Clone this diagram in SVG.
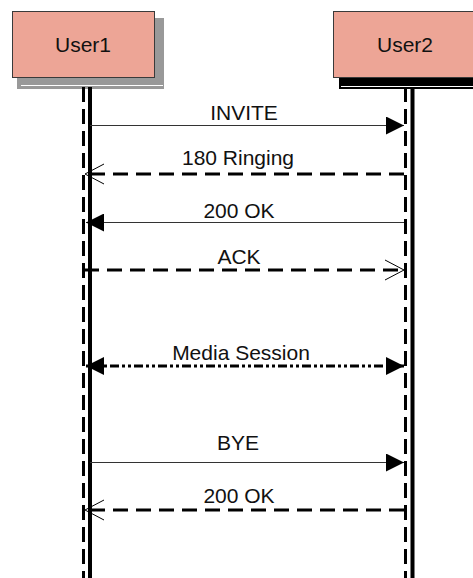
<svg xmlns="http://www.w3.org/2000/svg" width="473" height="578" viewBox="0 0 473 578">
<defs>
<style>
.lbl{font-family:"Liberation Sans",Arial,sans-serif;font-size:21px;fill:#111;text-anchor:middle}
.box{fill:#EDA596;stroke:#3a3a3a;stroke-width:1}
.life-d{stroke:#000;stroke-width:3;stroke-dasharray:15 7;fill:none}
.life-s{stroke:#000;stroke-width:4;fill:none}
.msg{stroke:#333;stroke-width:1.2;fill:none}
.msg-d{stroke:#000;stroke-width:3;stroke-dasharray:15 8;fill:none}
.msg-dd{stroke:#000;stroke-width:3;stroke-dasharray:9 3 3 3 3 3;fill:none}
.open{stroke:#000;stroke-width:1;fill:none}
</style>
<marker id="fillEnd" viewBox="0 0 18 18" refX="18" refY="9" markerWidth="18" markerHeight="18" markerUnits="userSpaceOnUse" orient="auto">
<path d="M0,0 L18,9 L0,18 Z" fill="#000"/>
</marker>
<marker id="fillStart" viewBox="0 0 18 18" refX="0" refY="9" markerWidth="18" markerHeight="18" markerUnits="userSpaceOnUse" orient="auto">
<path d="M18,0 L0,9 L18,18 Z" fill="#000"/>
</marker>
</defs>
<rect width="473" height="578" fill="#fff"/>
<g id="User1">
<rect x="17" y="18" width="147" height="71" fill="#999"/>
<line x1="21" y1="85.5" x2="163" y2="85.5" stroke="#fff" stroke-width="1"/>
<rect class="box" x="12.5" y="11.5" width="142" height="66"/>
<text class="lbl" x="83" y="52">User1</text>
</g>
<g id="User2">
<rect x="339" y="18" width="140" height="71" fill="#000"/>
<line x1="341" y1="86.5" x2="473" y2="86.5" stroke="#fff" stroke-width="1"/>
<rect class="box" x="333.5" y="11.5" width="143" height="66"/>
<text class="lbl" x="405" y="52">User2</text>
</g>
<g id="lifelines">
<line class="life-d" x1="83.5" y1="87" x2="83.5" y2="578"/>
<line class="life-s" x1="90" y1="87" x2="90" y2="578"/>
<line class="life-d" x1="405.5" y1="87" x2="405.5" y2="578"/>
<line class="life-s" x1="412.5" y1="87" x2="412.5" y2="578"/>
</g>
<g id="connectors">
<line class="msg" x1="90" y1="125.5" x2="404" y2="125.5" marker-end="url(#fillEnd)"/>
<text class="lbl" x="244" y="120">INVITE</text>
<line class="msg-d" x1="404" y1="174" x2="86" y2="174"/>
<path class="open" d="M104,164 L85,174 L104,184"/>
<text class="lbl" x="238" y="165">180 Ringing</text>
<line class="msg" x1="404" y1="222.5" x2="86" y2="222.5" marker-end="url(#fillEnd)"/>
<text class="lbl" x="239" y="218">200 OK</text>
<line class="msg-d" x1="84" y1="270" x2="404" y2="270"/>
<path class="open" d="M385,260 L404,270 L385,280"/>
<text class="lbl" x="239" y="264">ACK</text>
<line class="msg-dd" x1="86" y1="366" x2="404" y2="366" marker-start="url(#fillStart)" marker-end="url(#fillEnd)"/>
<text class="lbl" x="241" y="360">Media Session</text>
<line class="msg" x1="90" y1="462.5" x2="404" y2="462.5" marker-end="url(#fillEnd)"/>
<text class="lbl" x="238" y="450">BYE</text>
<line class="msg-d" x1="404" y1="510" x2="86" y2="510"/>
<path class="open" d="M104,500 L85,510 L104,520"/>
<text class="lbl" x="239" y="503">200 OK</text>
</g>
</svg>
